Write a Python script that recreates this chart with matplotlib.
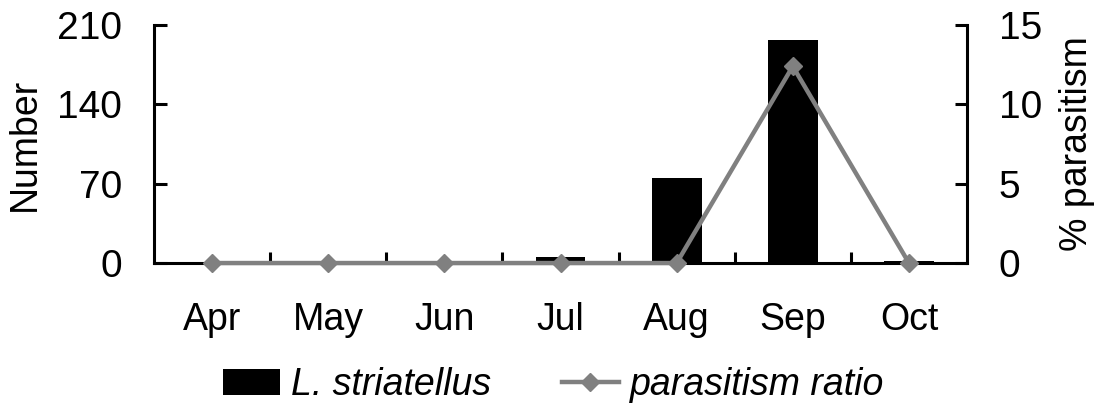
import numpy as np
import matplotlib
matplotlib.use('Agg')
import matplotlib.pyplot as plt
from matplotlib.ticker import FixedLocator

plt.rcParams['font.family'] = ['Liberation Sans', 'DejaVu Sans']

months = ['Apr', 'May', 'Jun', 'Jul', 'Aug', 'Sep', 'Oct']
number = [0, 0, 0, 5, 75, 197, 2]          # L. striatellus counts
parasitism = [0, 0, 0, 0, 0, 12.4, 0]      # % parasitism

x = np.arange(len(months))

fig = plt.figure(figsize=(11.01, 4.11), dpi=100)
ax = fig.add_axes([0.1399, 0.36, 0.7384, 0.579])

bars = ax.bar(x, number, width=0.43, color='black', label='L. striatellus', zorder=2)
ax.set_xlim(-0.5, 6.5)
ax.set_ylim(0, 210)
ax.set_yticks([0, 70, 140, 210])
ax.set_ylabel('Number', fontsize=27, labelpad=10)
ax.set_xticks(x)
ax.set_xticklabels(months)
ax.xaxis.set_minor_locator(FixedLocator(np.arange(0.5, 6.5, 1)))
ax.tick_params(axis='x', which='major', length=0, labelsize=27, pad=28)
ax.tick_params(axis='x', which='minor', direction='in', length=8, width=2.2)
ax.tick_params(axis='y', direction='in', length=9, width=2.2, labelsize=28, pad=23)
ax.spines['top'].set_visible(False)
ax.spines['right'].set_visible(False)
for s in ['left', 'bottom']:
    ax.spines[s].set_linewidth(2.2)

ax2 = ax.twinx()
line, = ax2.plot(x, parasitism, color='#808080', lw=3.2, marker='D', ms=9,
                 label='parasitism ratio', zorder=3, clip_on=False)
ax2.set_ylim(0, 15)
ax2.set_yticks([0, 5, 10, 15])
ax2.set_ylabel('% parasitism', fontsize=27, labelpad=12)
ax2.tick_params(axis='y', direction='in', length=9, width=2.2, labelsize=28, pad=23)
ax2.spines['top'].set_visible(False)
ax2.spines['left'].set_visible(False)
ax2.spines['bottom'].set_visible(False)
ax2.spines['right'].set_linewidth(2.2)

fig.legend([bars, line], ['L. striatellus', 'parasitism ratio'], loc='center',
           bbox_to_anchor=(0.503, 0.063), ncol=2, frameon=False,
           prop={'style': 'italic', 'size': 27}, handlelength=1.5,
           handletextpad=0.3, columnspacing=1.9)

fig.savefig('out.png', dpi=100)
